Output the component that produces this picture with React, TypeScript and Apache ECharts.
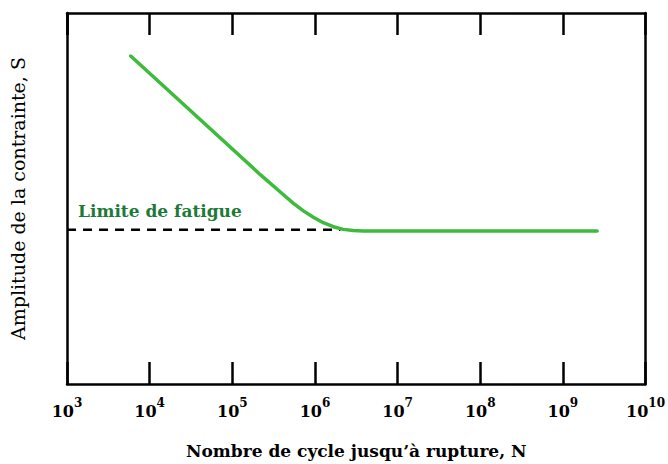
import React, { useEffect, useRef } from "react";
import * as echarts from "echarts";

const curveN = [5.9e3, 2.2e5, 4.16e5, 5.5e5, 7.25e5, 9.57e5, 1.26e6, 1.67e6, 2.2e6, 2.91e6, 3.84e6, 2.6e9];
const curveS = [88.4, 56.35, 51.0, 48.7, 46.67, 44.93, 43.47, 42.4, 41.68, 41.39, 41.25, 41.25];
const limitN = [1e3, 2.03e6];
const limitS = [41.6, 41.6];
const xMin = 1e3;
const xMax = 1e10;
const xTitle = "Nombre de cycle jusqu’à rupture, N";
const yTitle = "Amplitude de la contrainte, S";
const limitLabel = "Limite de fatigue";

const SERIF = "'DejaVu Serif', 'Liberation Serif', serif";

export default function App() {
  const ref = useRef<HTMLDivElement>(null);
  useEffect(() => {
    const chart = echarts.init(ref.current!, null, { renderer: "svg" });
    const axisLine = { show: true, onZero: false, lineStyle: { color: "#000", width: 2.5 } };
    const tick = { show: true, inside: true, length: 22, lineStyle: { color: "#000", width: 2.5 } };
    chart.setOption({
      animation: false,
      backgroundColor: "#fff",
      grid: { left: 66, right: 22, top: 13, bottom: 76 },
      xAxis: [
        {
          type: "log",
          logBase: 10,
          min: xMin,
          max: xMax,
          position: "bottom",
          axisLine,
          axisTick: tick,
          splitLine: { show: false },
          minorTick: { show: false },
          axisLabel: {
            margin: 13,
            formatter: (v: number) => {
              const e = Math.round(Math.log10(v));
              return "{b|10}{s|" + e + "}";
            },
            rich: {
              b: { fontFamily: SERIF, fontSize: 16, fontWeight: "bold", color: "#000", lineHeight: 22, verticalAlign: "bottom" },
              s: { fontFamily: SERIF, fontSize: 12, fontWeight: "bold", color: "#000", lineHeight: 22, verticalAlign: "top" },
            },
          },
          name: xTitle,
          nameLocation: "middle",
          nameGap: 58,
          nameTextStyle: { fontFamily: SERIF, fontSize: 17, fontWeight: "bold", color: "#000" },
        },
        {
          type: "log",
          logBase: 10,
          min: xMin,
          max: xMax,
          position: "top",
          axisLine,
          axisTick: tick,
          axisLabel: { show: false },
          splitLine: { show: false },
        },
      ],
      yAxis: [
        {
          type: "value",
          min: 0,
          max: 100,
          position: "left",
          axisLine,
          axisTick: { show: false },
          axisLabel: { show: false },
          splitLine: { show: false },
          name: yTitle,
          nameLocation: "middle",
          nameGap: 40,
          nameTextStyle: { fontFamily: SERIF, fontSize: 19, color: "#000" },
        },
        {
          type: "value",
          min: 0,
          max: 100,
          position: "right",
          axisLine,
          axisTick: { show: false },
          axisLabel: { show: false },
          splitLine: { show: false },
        },
      ],
      series: [
        {
          type: "line",
          data: limitN.map((n, i) => [n, limitS[i]]),
          showSymbol: false,
          lineStyle: { color: "#000", width: 2.5, type: [9, 7] },
          z: 2,
        },
        {
          type: "line",
          data: curveN.map((n, i) => [n, curveS[i]]),
          showSymbol: false,
          smooth: false,
          lineStyle: { color: "#3dbb3a", width: 3.5, join: "round", cap: "round" },
          z: 3,
        },
      ],
      graphic: [
        {
          type: "text",
          left: 78,
          top: 202,
          style: { text: limitLabel, fontFamily: SERIF, fontSize: 17, fontWeight: "bold", fill: "#1c7a36" },
        },
      ],
    });
    return () => chart.dispose();
  }, []);
  return <div ref={ref} style={{ width: 668, height: 464, position: "absolute", left: 0, top: 0 }} />;
}
